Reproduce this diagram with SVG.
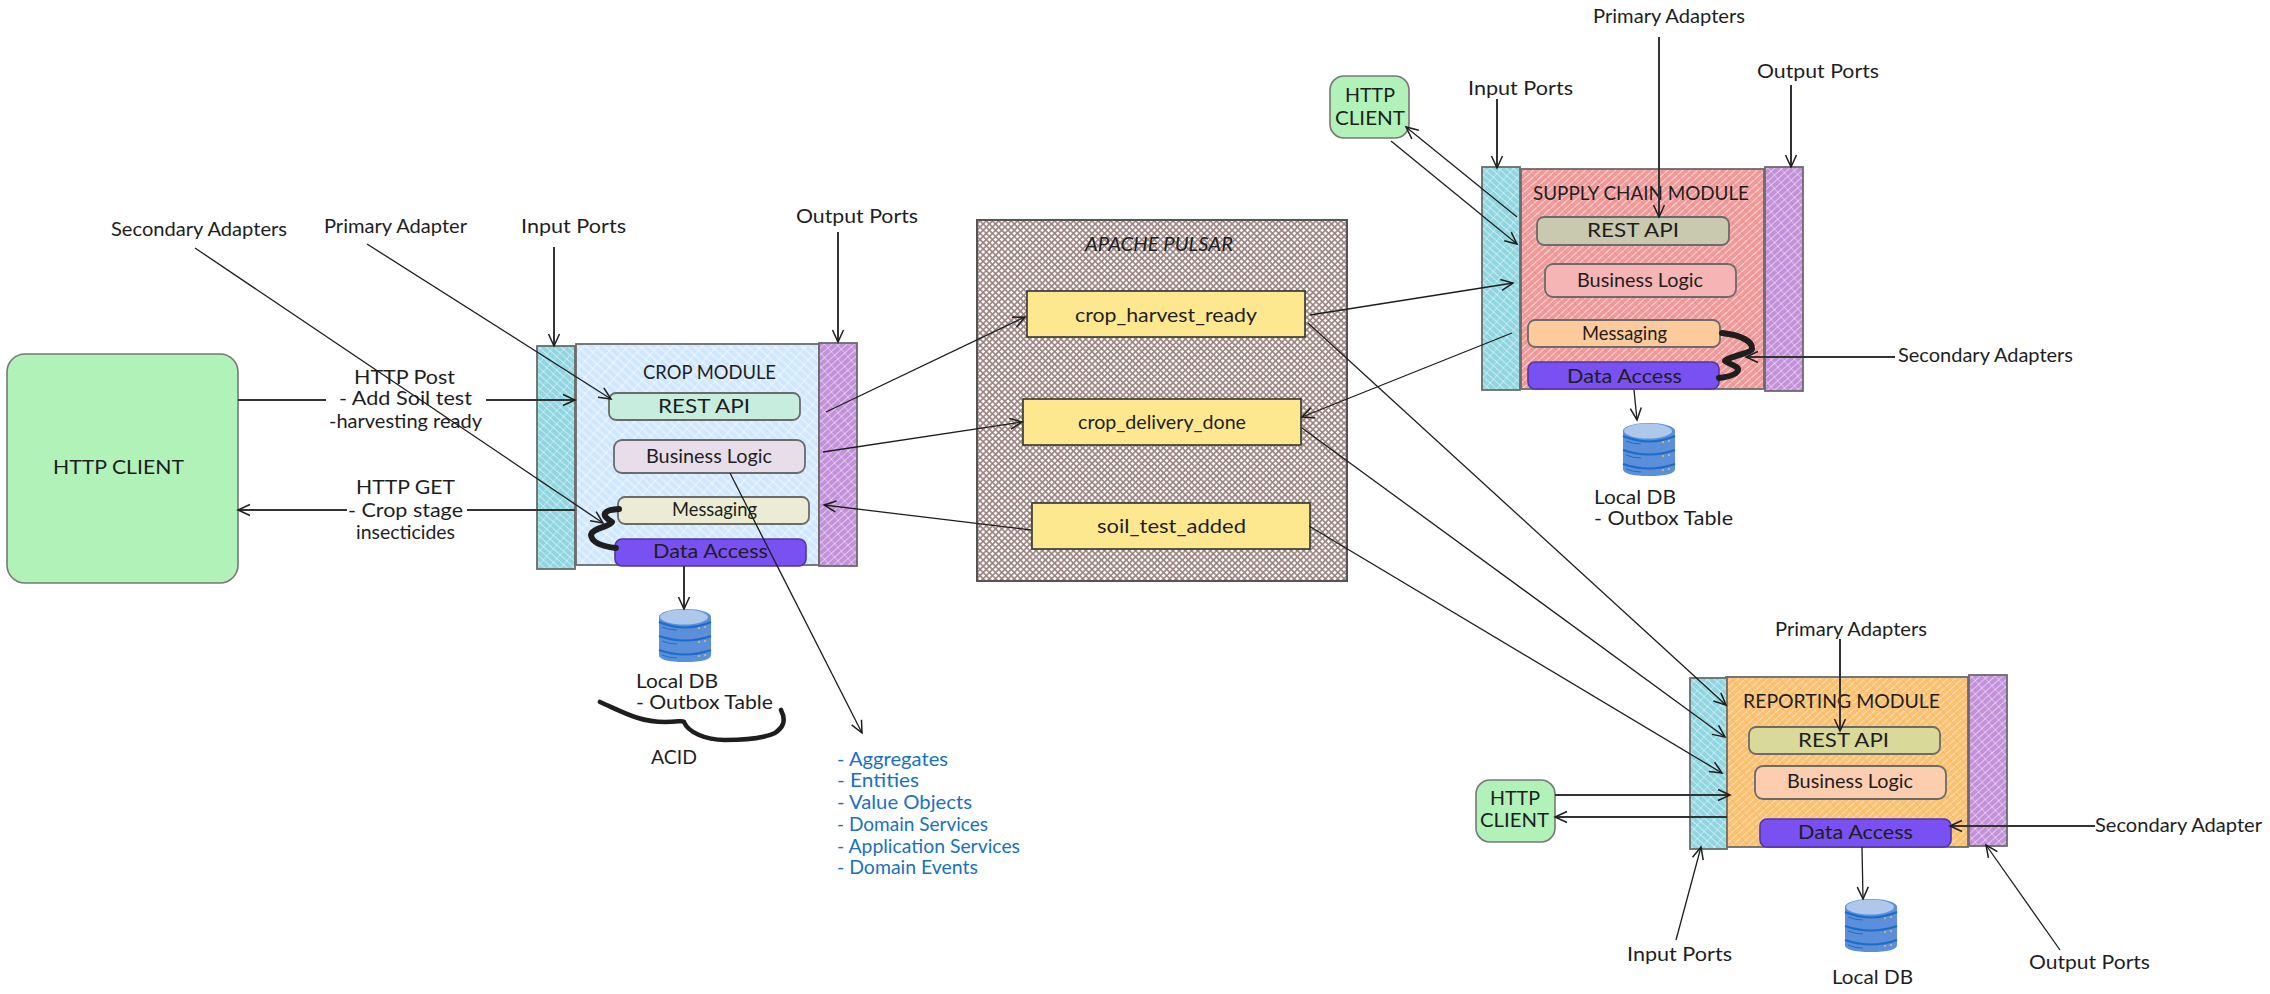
<svg xmlns="http://www.w3.org/2000/svg" width="2270" height="994" viewBox="0 0 2270 994">
<style>
text{font-family:"Lato","Open Sans","Liberation Sans",sans-serif;font-size:19px;fill:#1e1e1e;transform:translateY(1px)}
.blue{fill:#1971c2}
.b{stroke:#6b6b6b;stroke-width:1.8}
.tp{fill:#fee88f;stroke:#333;stroke-width:1.6}
.da{fill:#7950f2;stroke:#4f35a8;stroke-width:1.6}
.in{fill:url(#hCyan)}
.out{fill:url(#hPurple)}
.client{fill:#b0f2b8;stroke:#777;stroke-width:1.6}
#connectors path{fill:none;stroke:#1e1e1e;stroke-width:1.3}
#connectors path.s{stroke:#333;stroke-width:2}
#connectors .a{marker-end:url(#arr)}
.thick{fill:none;stroke:#1e1e1e;stroke-width:6;stroke-linecap:round;stroke-linejoin:round}
.brace{stroke-width:4.6}
</style>
<defs>
<marker id="arr" markerUnits="userSpaceOnUse" markerWidth="30" markerHeight="30" refX="22" refY="15" orient="auto" overflow="visible">
<path d="M10,9.5 L22,15 L10,20.500" fill="none" stroke="#1e1e1e" stroke-width="1.5"/>
</marker>
<pattern id="hCyan" width="9" height="5" patternUnits="userSpaceOnUse" patternTransform="rotate(42)"><rect width="9" height="5" fill="#90d6e0"/><path d="M0,2.500H9" stroke="#fff" stroke-opacity=".5" stroke-width="1"/><path d="M4.500,0V5" stroke="#fff" stroke-opacity=".35" stroke-width="1"/></pattern>
<pattern id="hPurple" width="9" height="5" patternUnits="userSpaceOnUse" patternTransform="rotate(-42)"><rect width="9" height="5" fill="#c391d9"/><path d="M0,2.500H9" stroke="#fff" stroke-opacity=".5" stroke-width="1"/><path d="M4.500,0V5" stroke="#fff" stroke-opacity=".35" stroke-width="1"/></pattern>
<pattern id="hBlue" width="11" height="6" patternUnits="userSpaceOnUse" patternTransform="rotate(42)"><rect width="11" height="6" fill="#d0e8ff"/><path d="M0,3H11" stroke="#fff" stroke-opacity=".7" stroke-width="1"/><path d="M5.500,0V6" stroke="#fff" stroke-opacity=".5" stroke-width="1"/></pattern>
<pattern id="hRed" width="9" height="5" patternUnits="userSpaceOnUse" patternTransform="rotate(-42)"><rect width="9" height="5" fill="#f09a9a"/><path d="M0,2.500H9" stroke="#ffecec" stroke-opacity=".75" stroke-width="1"/><path d="M4.500,0V5" stroke="#e88484" stroke-opacity=".5" stroke-width="1"/></pattern>
<pattern id="hOrange" width="9" height="5" patternUnits="userSpaceOnUse" patternTransform="rotate(-42)"><rect width="9" height="5" fill="#fbc273"/><path d="M0,2.500H9" stroke="#ffecd0" stroke-opacity=".7" stroke-width="1"/><path d="M4.500,0V5" stroke="#f5b55e" stroke-opacity=".7" stroke-width="1"/></pattern>
<pattern id="hPulsar" width="4.400" height="4.400" patternUnits="userSpaceOnUse" patternTransform="rotate(45)"><rect width="4.400" height="4.400" fill="#9a817d"/><rect x=".8" y=".8" width="2.800" height="2.800" fill="#fff"/></pattern>
<g id="db">
<path d="M0,8C0,3 12,0 26,0C40,0 52,3 52,8V46Q52,53 26,53Q0,53 0,46Z" fill="#5b8fd9"/>
<ellipse cx="25" cy="8" rx="24" ry="7.500" fill="#aec8eb"/>
<path d="M0,13Q26,24 52,13M0,27Q26,36 52,27M0,41Q26,50 52,41" fill="none" stroke="#1a6dcc" stroke-width="2.200"/>
<path d="M3,18Q10,21 18,21M3,32Q10,35 18,35M3,46Q10,49 18,49" fill="none" stroke="#1a6dcc" stroke-width="1"/>
<path d="M39,19h2M45,18h2M39,33h2M45,32h2M39,47h2M45,46h2" stroke="#f7b84b" stroke-width="1.500"/>
</g>
</defs>
<rect width="2270" height="994" fill="#fff"/>

<g id="http-client-crop"><rect class="client" x="7" y="354" width="231" height="229" rx="18"/><text x="53" y="473" textLength="131" lengthAdjust="spacingAndGlyphs">HTTP CLIENT</text></g>

<g id="crop-module"><rect class="b" x="576" y="344" width="243" height="221" fill="url(#hBlue)"/><text x="643" y="378" textLength="133" lengthAdjust="spacingAndGlyphs">CROP MODULE</text></g>
<g id="crop-input-ports"><rect class="b in" x="537" y="346" width="38" height="223"/></g>
<g id="crop-output-ports"><rect class="b out" x="819" y="343" width="38" height="223"/></g>
<g id="crop-rest-api"><rect class="b" x="609" y="393" width="191" height="27" rx="7" fill="#c6eddd"/><text x="658" y="412" textLength="92" lengthAdjust="spacingAndGlyphs">REST API</text></g>
<g id="crop-business-logic"><rect class="b" x="614" y="440" width="191" height="33" rx="8" fill="#e8deea"/><text x="646" y="462" textLength="126" lengthAdjust="spacingAndGlyphs">Business Logic</text></g>
<g id="crop-messaging"><rect class="b" x="618" y="497" width="191" height="27" rx="7" fill="#ebecd3"/><text x="672" y="515" textLength="85" lengthAdjust="spacingAndGlyphs">Messaging</text></g>
<g id="crop-data-access"><rect class="da" x="615" y="539" width="191" height="27" rx="7"/><text x="653" y="557" textLength="115" lengthAdjust="spacingAndGlyphs">Data Access</text></g>
<g id="crop-db"><use href="#db" x="659" y="609"/><text x="636" y="687" textLength="82" lengthAdjust="spacingAndGlyphs">Local DB</text><text x="636" y="708" textLength="137" lengthAdjust="spacingAndGlyphs">- Outbox Table</text></g>
<g id="acid"><text x="651" y="763" textLength="46" lengthAdjust="spacingAndGlyphs">ACID</text></g>
<g id="domain-list">
<text class="blue" x="837" y="765" textLength="111" lengthAdjust="spacingAndGlyphs">- Aggregates</text>
<text class="blue" x="837" y="786" textLength="82" lengthAdjust="spacingAndGlyphs">- Entities</text>
<text class="blue" x="837" y="808" textLength="135" lengthAdjust="spacingAndGlyphs">- Value Objects</text>
<text class="blue" x="837" y="830" textLength="151" lengthAdjust="spacingAndGlyphs">- Domain Services</text>
<text class="blue" x="837" y="852" textLength="183" lengthAdjust="spacingAndGlyphs">- Application Services</text>
<text class="blue" x="837" y="873" textLength="141" lengthAdjust="spacingAndGlyphs">- Domain Events</text>
</g>

<g id="apache-pulsar"><rect x="977" y="220" width="370" height="361" fill="url(#hPulsar)" stroke="#555" stroke-width="2"/><text x="1085" y="250" textLength="148" lengthAdjust="spacingAndGlyphs" font-style="italic">APACHE PULSAR</text></g>
<g id="crop-harvest-ready"><rect class="tp" x="1027" y="291" width="278" height="46"/><text x="1075" y="321" textLength="182" lengthAdjust="spacingAndGlyphs">crop_harvest_ready</text></g>
<g id="crop-delivery-done"><rect class="tp" x="1023" y="399" width="278" height="46"/><text x="1078" y="428" textLength="168" lengthAdjust="spacingAndGlyphs">crop_delivery_done</text></g>
<g id="soil-test-added"><rect class="tp" x="1032" y="503" width="278" height="46"/><text x="1097" y="532" textLength="149" lengthAdjust="spacingAndGlyphs">soil_test_added</text></g>

<g id="http-client-supply"><rect class="client" x="1330" y="76" width="79" height="62" rx="14"/><text x="1345" y="101" textLength="50" lengthAdjust="spacingAndGlyphs">HTTP</text><text x="1335" y="124" textLength="70" lengthAdjust="spacingAndGlyphs">CLIENT</text></g>
<g id="supply-module"><rect class="b" x="1521" y="169" width="243" height="220" fill="url(#hRed)"/><text x="1533" y="199" textLength="216" lengthAdjust="spacingAndGlyphs">SUPPLY CHAIN MODULE</text></g>
<g id="supply-input-ports"><rect class="b in" x="1482" y="167" width="38" height="223"/></g>
<g id="supply-output-ports"><rect class="b out" x="1765" y="167" width="38" height="224"/></g>
<g id="supply-rest-api"><rect class="b" x="1537" y="217" width="192" height="28" rx="7" fill="#c8c9ae"/><text x="1587" y="236" textLength="92" lengthAdjust="spacingAndGlyphs">REST API</text></g>
<g id="supply-business-logic"><rect class="b" x="1545" y="264" width="191" height="33" rx="8" fill="#f7b4b4"/><text x="1577" y="286" textLength="126" lengthAdjust="spacingAndGlyphs">Business Logic</text></g>
<g id="supply-messaging"><rect class="b" x="1528" y="320" width="192" height="27" rx="7" fill="#fcca9b"/><text x="1582" y="339" textLength="85" lengthAdjust="spacingAndGlyphs">Messaging</text></g>
<g id="supply-data-access"><rect class="da" x="1528" y="362" width="191" height="27" rx="7"/><text x="1567" y="382" textLength="115" lengthAdjust="spacingAndGlyphs">Data Access</text></g>
<g id="supply-db"><use href="#db" x="1623" y="423"/><text x="1594" y="503" textLength="82" lengthAdjust="spacingAndGlyphs">Local DB</text><text x="1594" y="524" textLength="139" lengthAdjust="spacingAndGlyphs">- Outbox Table</text></g>

<g id="reporting-module"><rect class="b" x="1726" y="677" width="242" height="170" fill="url(#hOrange)"/><text x="1743" y="707" textLength="197" lengthAdjust="spacingAndGlyphs">REPORTING MODULE</text></g>
<g id="reporting-input-ports"><rect class="b in" x="1690" y="678" width="37" height="171"/></g>
<g id="reporting-output-ports"><rect class="b out" x="1969" y="675" width="38" height="171"/></g>
<g id="reporting-rest-api"><rect class="b" x="1749" y="727" width="191" height="27" rx="7" fill="#d9d99a"/><text x="1798" y="746" textLength="91" lengthAdjust="spacingAndGlyphs">REST API</text></g>
<g id="reporting-business-logic"><rect class="b" x="1755" y="766" width="191" height="33" rx="8" fill="#fdcdb0"/><text x="1787" y="787" textLength="126" lengthAdjust="spacingAndGlyphs">Business Logic</text></g>
<g id="reporting-data-access"><rect class="da" x="1760" y="819" width="191" height="28" rx="7"/><text x="1798" y="838" textLength="115" lengthAdjust="spacingAndGlyphs">Data Access</text></g>
<g id="http-client-reporting"><rect class="client" x="1476" y="780" width="79" height="62" rx="14"/><text x="1490" y="804" textLength="50" lengthAdjust="spacingAndGlyphs">HTTP</text><text x="1480" y="826" textLength="69" lengthAdjust="spacingAndGlyphs">CLIENT</text></g>
<g id="reporting-db"><use href="#db" x="1845" y="899"/><text x="1832" y="983" textLength="81" lengthAdjust="spacingAndGlyphs">Local DB</text></g>

<g id="labels">
<text x="111" y="235" textLength="176" lengthAdjust="spacingAndGlyphs">Secondary Adapters</text>
<text x="324" y="232" textLength="143" lengthAdjust="spacingAndGlyphs">Primary Adapter</text>
<text x="521" y="232" textLength="105" lengthAdjust="spacingAndGlyphs">Input Ports</text>
<text x="796" y="222" textLength="122" lengthAdjust="spacingAndGlyphs">Output Ports</text>
<text x="354" y="383" textLength="101" lengthAdjust="spacingAndGlyphs">HTTP Post</text>
<text x="339" y="404" textLength="133" lengthAdjust="spacingAndGlyphs">- Add Soil test</text>
<text x="329" y="427" textLength="153" lengthAdjust="spacingAndGlyphs">-harvesting ready</text>
<text x="356" y="493" textLength="99" lengthAdjust="spacingAndGlyphs">HTTP GET</text>
<text x="348" y="516" textLength="115" lengthAdjust="spacingAndGlyphs">- Crop stage</text>
<text x="356" y="538" textLength="99" lengthAdjust="spacingAndGlyphs">insecticides</text>
<text x="1593" y="22" textLength="152" lengthAdjust="spacingAndGlyphs">Primary Adapters</text>
<text x="1468" y="94" textLength="105" lengthAdjust="spacingAndGlyphs">Input Ports</text>
<text x="1757" y="77" textLength="122" lengthAdjust="spacingAndGlyphs">Output Ports</text>
<text x="1898" y="361" textLength="175" lengthAdjust="spacingAndGlyphs">Secondary Adapters</text>
<text x="1775" y="635" textLength="152" lengthAdjust="spacingAndGlyphs">Primary Adapters</text>
<text x="2095" y="831" textLength="167" lengthAdjust="spacingAndGlyphs">Secondary Adapter</text>
<text x="1627" y="960" textLength="105" lengthAdjust="spacingAndGlyphs">Input Ports</text>
<text x="2029" y="968" textLength="121" lengthAdjust="spacingAndGlyphs">Output Ports</text>
</g>

<g id="braces">
<path class="thick" d="M619,509C603,510 600,515 612,522C610,527 592,528 591,535C592,544 607,547 616,548"/>
<path class="thick" d="M1722,333C1740,335 1753,341 1752,349C1751,353 1725,358 1725,361C1727,363 1740,367 1738,370C1737,375 1727,377 1719,378"/>
<path class="thick brace" d="M600,702C625,713 640,722 665,722C680,722 682,720 684,722C688,732 705,740 725,740C745,740 765,738 775,733C782,728 787,722 781,710"/>
</g>

<g id="connectors">
<path class="a" d="M195,248L603,523"/>
<path class="a" d="M367,244L611,399"/>
<path class="a s" d="M554,247V346"/>
<path class="a s" d="M838,232V342"/>
<path class="s" d="M238,400H326"/>
<path class="a s" d="M486,400H575"/>
<path class="s" d="M575,510H467"/>
<path class="a s" d="M347,510H238"/>
<path class="a s" d="M684,566V609"/>
<path class="a" d="M730,473L862,733"/>
<path class="a" d="M826,412L1025,317"/>
<path class="a" d="M823,452L1022,422"/>
<path class="a" d="M1031,530L824,505"/>
<path class="a" d="M1310,315L1513,283"/>
<path class="a" d="M1512,333L1302,417"/>
<path class="a" d="M1517,217L1406,127"/>
<path class="a" d="M1391,141L1517,244"/>
<path class="a s" d="M1659,37V217"/>
<path class="a s" d="M1497,99V168"/>
<path class="a s" d="M1791,85V167"/>
<path class="a s" d="M1895,357H1746"/>
<path class="a" d="M1634,390L1637,420"/>
<path class="a" d="M1308,323L1726,705"/>
<path class="a" d="M1302,428L1725,737"/>
<path class="a" d="M1309,526L1722,773"/>
<path class="a s" d="M1840,639V731"/>
<path class="a s" d="M1555,795H1730"/>
<path class="a s" d="M1727,817H1555"/>
<path class="a s" d="M2095,826H1950"/>
<path class="a" d="M1676,940L1701,847"/>
<path class="a" d="M2060,950L1986,845"/>
<path class="a" d="M1862,847L1863,899"/>
</g>
</svg>
